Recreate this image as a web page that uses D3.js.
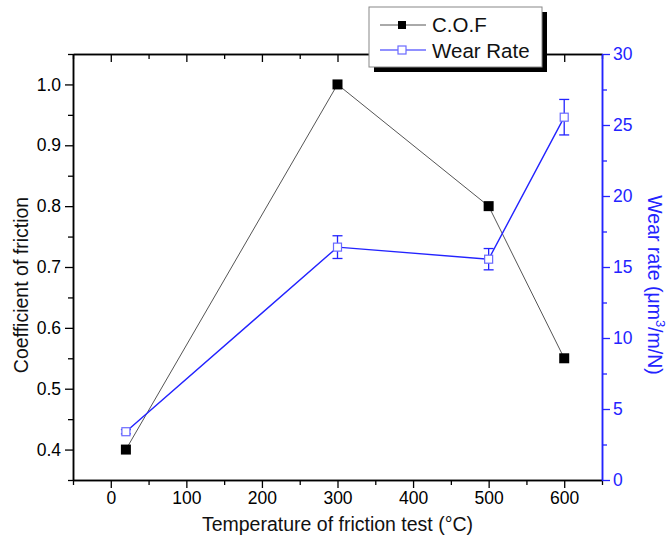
<!DOCTYPE html>
<html>
<head>
<meta charset="utf-8">
<script src="https://cdn.jsdelivr.net/npm/d3@7"></script>
<style>
  body { margin: 0; background: #fff; }
  svg text { font-family: "Liberation Sans", Arial, sans-serif; }
</style>
</head>
<body>
<svg id="chart" width="669" height="543"></svg>
<script>
// Friction test results
const temperatures = [20, 300, 500, 600];
const cofValues = [0.40, 1.00, 0.80, 0.55];
const wearValues = [3.4, 16.4, 15.55, 25.55];
const wearErrors = [0.15, 0.8, 0.75, 1.25];

const xTicks = [0, 100, 200, 300, 400, 500, 600];
const cofTicks = [0.4, 0.5, 0.6, 0.7, 0.8, 0.9, 1.0];
const wearTicks = [0, 5, 10, 15, 20, 25, 30];

const svg = d3.select("#chart");
const plotLeft = 73, plotRight = 602, plotTop = 54, plotBottom = 480;
const blue = "#2323ff";

const x = d3.scaleLinear().domain([-50, 650]).range([plotLeft, plotRight]);
const yL = d3.scaleLinear().domain([0.35, 1.05]).range([plotBottom, plotTop]);
const yR = d3.scaleLinear().domain([0, 30]).range([plotBottom, plotTop]);

function styleAxis(g, color) {
  g.select(".domain").attr("stroke", color).attr("stroke-width", 1.5);
  g.selectAll(".tick line").attr("stroke", color).attr("stroke-width", 1.3);
  g.selectAll(".tick text").attr("fill", color).attr("font-size", 17.5);
}

// minor ticks
const xMinor = d3.range(-50, 651, 50).filter(v => v % 100 !== 0);
const cofMinor = [0.35, 0.45, 0.55, 0.65, 0.75, 0.85, 0.95, 1.05];
const wearMinor = [2.5, 7.5, 12.5, 17.5, 22.5, 27.5];

// bottom axis
svg.append("g").attr("transform", `translate(0,${plotBottom})`)
  .call(d3.axisBottom(x).tickValues(xMinor).tickSize(5).tickFormat("").tickSizeOuter(0))
  .call(g => styleAxis(g, "#000"));
svg.append("g").attr("transform", `translate(0,${plotBottom})`)
  .call(d3.axisBottom(x).tickValues(xTicks).tickSize(8).tickPadding(4).tickSizeOuter(0))
  .call(g => styleAxis(g, "#000"));

// top axis (inward ticks)
svg.append("g").attr("transform", `translate(0,${plotTop})`)
  .call(d3.axisTop(x).tickValues(xMinor).tickSize(-5).tickFormat("").tickSizeOuter(0))
  .call(g => styleAxis(g, "#000"));
svg.append("g").attr("transform", `translate(0,${plotTop})`)
  .call(d3.axisTop(x).tickValues(xTicks).tickSize(-8).tickFormat("").tickSizeOuter(0))
  .call(g => styleAxis(g, "#000"));

// left axis
svg.append("g").attr("transform", `translate(${plotLeft},0)`)
  .call(d3.axisLeft(yL).tickValues(cofMinor).tickSize(5).tickFormat("").tickSizeOuter(0))
  .call(g => styleAxis(g, "#000"));
svg.append("g").attr("transform", `translate(${plotLeft},0)`)
  .call(d3.axisLeft(yL).tickValues(cofTicks).tickSize(8).tickPadding(4)
    .tickFormat(d3.format(".1f")).tickSizeOuter(0))
  .call(g => styleAxis(g, "#000"));

// right axis
svg.append("g").attr("transform", `translate(${plotRight},0)`)
  .call(d3.axisRight(yR).tickValues(wearMinor).tickSize(5).tickFormat("").tickSizeOuter(0))
  .call(g => styleAxis(g, blue));
svg.append("g").attr("transform", `translate(${plotRight},0)`)
  .call(d3.axisRight(yR).tickValues(wearTicks).tickSize(8).tickPadding(3).tickSizeOuter(0))
  .call(g => styleAxis(g, blue));

// axis titles
svg.append("text")
  .attr("x", (plotLeft + plotRight) / 2).attr("y", 531)
  .attr("text-anchor", "middle").attr("font-size", 19.5).attr("fill", "#111")
  .text("Temperature of friction test (°C)");
svg.append("text")
  .attr("transform", `translate(28,${(plotTop + plotBottom) / 2 + 18}) rotate(-90)`)
  .attr("text-anchor", "middle").attr("font-size", 19.5).attr("fill", "#111")
  .text("Coefficient of friction");
const wt = svg.append("text")
  .attr("transform", `translate(648,${(plotTop + plotBottom) / 2 + 18}) rotate(90)`)
  .attr("text-anchor", "middle").attr("font-size", 19.5).attr("fill", blue);
wt.append("tspan").text("Wear rate (μm");
wt.append("tspan").attr("font-size", 13).attr("dy", -8).text("3");
wt.append("tspan").attr("dy", 8).text("/m/N)");

// C.O.F series
const cofData = temperatures.map((t, i) => ({ t, v: cofValues[i] }));
svg.append("path").datum(cofData)
  .attr("fill", "none").attr("stroke", "#555").attr("stroke-width", 1)
  .attr("d", d3.line().x(d => x(d.t)).y(d => yL(d.v)));
svg.selectAll(".cof").data(cofData).join("rect")
  .attr("x", d => x(d.t) - 5).attr("y", d => yL(d.v) - 5)
  .attr("width", 10).attr("height", 10).attr("fill", "#000");

// Wear rate series
const wearData = temperatures.map((t, i) => ({ t, v: wearValues[i], e: wearErrors[i] }));
svg.append("path").datum(wearData)
  .attr("fill", "none").attr("stroke", blue).attr("stroke-width", 1.4)
  .attr("d", d3.line().x(d => x(d.t)).y(d => yR(d.v)));
const eb = svg.selectAll(".err").data(wearData).join("g").attr("stroke", blue).attr("stroke-width", 1.3);
eb.append("line").attr("x1", d => x(d.t)).attr("x2", d => x(d.t))
  .attr("y1", d => yR(d.v + d.e)).attr("y2", d => yR(d.v - d.e));
eb.append("line").attr("x1", d => x(d.t) - 5).attr("x2", d => x(d.t) + 5)
  .attr("y1", d => yR(d.v + d.e)).attr("y2", d => yR(d.v + d.e));
eb.append("line").attr("x1", d => x(d.t) - 5).attr("x2", d => x(d.t) + 5)
  .attr("y1", d => yR(d.v - d.e)).attr("y2", d => yR(d.v - d.e));
svg.selectAll(".wear").data(wearData).join("rect")
  .attr("x", d => x(d.t) - 4).attr("y", d => yR(d.v) - 4)
  .attr("width", 8).attr("height", 8)
  .attr("fill", "#fff").attr("stroke", "#6a6aff").attr("stroke-width", 1.2);

// legend
const lg = svg.append("g");
lg.append("rect").attr("x", 374).attr("y", 12).attr("width", 173).attr("height", 60).attr("fill", "#000");
lg.append("rect").attr("x", 369).attr("y", 7).attr("width", 173).attr("height", 60)
  .attr("fill", "#fff").attr("stroke", "#888").attr("stroke-width", 1);
lg.append("line").attr("x1", 380).attr("x2", 426).attr("y1", 25).attr("y2", 25)
  .attr("stroke", "#555").attr("stroke-width", 1);
lg.append("rect").attr("x", 398).attr("y", 21).attr("width", 8).attr("height", 8).attr("fill", "#000");
lg.append("line").attr("x1", 380).attr("x2", 426).attr("y1", 50).attr("y2", 50)
  .attr("stroke", blue).attr("stroke-width", 1.2);
lg.append("rect").attr("x", 398).attr("y", 46).attr("width", 8).attr("height", 8)
  .attr("fill", "#fff").attr("stroke", "#6a6aff").attr("stroke-width", 1.2);
lg.append("text").attr("x", 432).attr("y", 32).attr("font-size", 20.5).attr("fill", "#111").text("C.O.F");
lg.append("text").attr("x", 432).attr("y", 58).attr("font-size", 20.5).attr("fill", "#111").text("Wear Rate");
</script>
</body>
</html>
